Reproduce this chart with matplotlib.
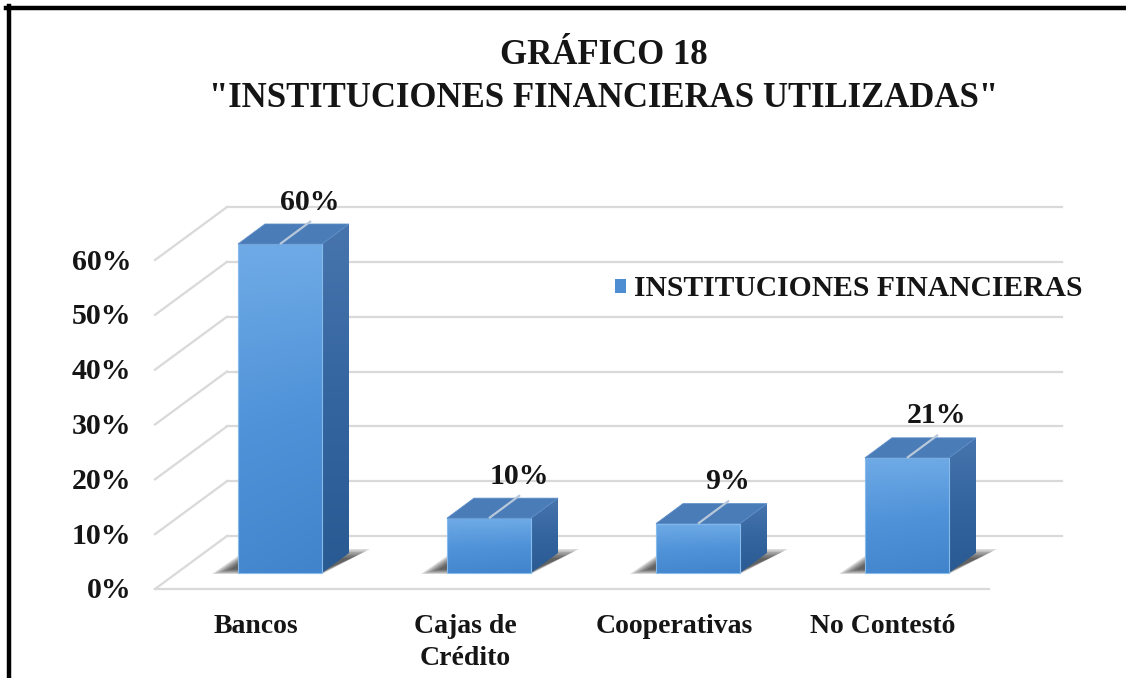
import numpy as np
import matplotlib
matplotlib.use("Agg")
import matplotlib.pyplot as plt
from matplotlib.patches import Polygon, Patch
from matplotlib.lines import Line2D
from matplotlib.colors import LinearSegmentedColormap

# ---------------- data ----------------
categories = ["Bancos", "Cajas de\nCrédito", "Cooperativas", "No Contestó"]
values = [60, 10, 9, 21]
value_labels = ["60%", "10%", "9%", "21%"]
yticks = [0, 10, 20, 30, 40, 50, 60]
ytick_labels = ["0%", "10%", "20%", "30%", "40%", "50%", "60%"]
series_name = "INSTITUCIONES FINANCIERAS"
title = 'GRÁFICO 18\n"INSTITUCIONES FINANCIERAS UTILIZADAS"'

# ---------------- figure ----------------
W, H = 1126, 678
fig = plt.figure(figsize=(W / 100, H / 100), dpi=100)
fig.patch.set_facecolor("white")
ax = fig.add_axes([0, 0, 1, 1])
ax.set_axis_off()

# pixel scale helpers (style only)
PXX = 1 / 209.0      # x data units per pixel
PXY = 1 / 5.483      # y data units per pixel
FONT = "Liberation Serif"
TXT = "#151515"

# perspective (style constants)
wall_x0 = -53 * PXX
wall_x1 = 782 * PXX
side_dx = -72 * PXX
side_dy = -53 * PXY
bar_base = -37 * PXY
half_w = 42 * PXX
dep_dx = 27 * PXX
dep_dy = 20 * PXY

grid_c = "#d9d9d9"
# back wall gridlines + side wall diagonals
for t in yticks:
    ax.plot([wall_x0, wall_x1], [t, t], color=grid_c, lw=1.6, zorder=1)
    ax.plot([wall_x0, wall_x0 + side_dx], [t, t + side_dy], color=grid_c, lw=1.6, zorder=1)
# front floor edge
ax.plot([wall_x0 + side_dx, wall_x0 + side_dx + 834 * PXX], [side_dy, side_dy],
        color=grid_c, lw=1.6, zorder=1)

# y tick labels on the front plane
for t, lab in zip(yticks, ytick_labels):
    ax.text(wall_x0 + side_dx - 24 * PXX, t + side_dy - 2 * PXY, lab, ha="right", va="center",
            fontsize=21.5, fontweight="bold", family=FONT, color=TXT)

front_cmap = LinearSegmentedColormap.from_list("front", ["#6eaae6", "#4f92d8", "#4184cb"])
side_cmap = LinearSegmentedColormap.from_list("side", ["#4774ad", "#34659f", "#2a5a92"])
top_color = "#4a7cb8"

grad = np.linspace(0, 1, 64).reshape(-1, 1)
hgrad = np.linspace(0.85, 1.0, 32).reshape(1, -1)

for i, (v, vl) in enumerate(zip(values, value_labels)):
    xl, xr = i - half_w, i + half_w
    b = bar_base
    tp = bar_base + v

    # soft shadow on floor
    for k in range(7):
        s = k * 3 * PXX
        sy = k * 1.5 * PXY
        shadow = Polygon([(xl - 26 * PXX + s, b - 1 * PXY + sy * 0.5),
                          (xr + s * 0.2, b - 1 * PXY + sy * 0.5),
                          (xr + 48 * PXX - s, b + 24 * PXY - sy),
                          (xl + 10 * PXX, b + 24 * PXY - sy)],
                         closed=True, facecolor="#1a1a1a", edgecolor="none",
                         alpha=0.15, zorder=2)
        ax.add_patch(shadow)

    # side face
    side_poly = Polygon([(xr, b), (xr + dep_dx, b + dep_dy), (xr + dep_dx, tp + dep_dy), (xr, tp)],
                        closed=True, facecolor="none", edgecolor="none", zorder=3)
    ax.add_patch(side_poly)
    im = ax.imshow(grad, cmap=side_cmap, extent=[xr, xr + dep_dx, b, tp + dep_dy],
                   origin="upper", aspect="auto", zorder=3, interpolation="bicubic")
    im.set_clip_path(side_poly)

    # front face
    ax.imshow(grad * hgrad, cmap=front_cmap, extent=[xl, xr, b, tp], origin="upper",
              aspect="auto", zorder=4, interpolation="bicubic")
    ax.add_patch(Polygon([(xl, b), (xr, b), (xr, tp), (xl, tp)], closed=True,
                         facecolor="none", edgecolor="#86bbec", lw=0.8, zorder=4))

    # top face
    ax.add_patch(Polygon([(xl, tp), (xr, tp), (xr + dep_dx, tp + dep_dy), (xl + dep_dx, tp + dep_dy)],
                         closed=True, facecolor=top_color, edgecolor="#5a8bc6", lw=0.6, zorder=5))
    # leader line
    ax.plot([i, i + dep_dx * 1.15], [tp, tp + dep_dy * 1.15], color="#b8c8da", lw=1.6, zorder=6,
            solid_capstyle="butt")

    # value label
    ax.text(i + 30 * PXX, tp + dep_dy + 22 * PXY, vl, ha="center", va="center",
            fontsize=21.5, fontweight="bold", family=FONT, color=TXT, zorder=7)

    # category label
    ax.text(i - 24 * PXX, bar_base - 41 * PXY, categories[i], ha="center", va="top",
            fontsize=20, fontweight="bold", family=FONT, color=TXT, linespacing=1.35)

ax.set_xlim(-280 * PXX, (W - 280) * PXX)
ax.set_ylim(-(H - 536) * PXY, 536 * PXY)

# legend
leg = ax.legend(handles=[Patch(facecolor="#4f8dd2", edgecolor="none", label=series_name)],
                loc="center left", bbox_to_anchor=(615 / W, 1 - 289 / H),
                bbox_transform=fig.transFigure, frameon=False, handlelength=0.38,
                handleheight=0.38, handletextpad=0.25, borderpad=0, borderaxespad=0,
                prop={"family": FONT, "weight": "bold", "size": 21.3})
for t in leg.get_texts():
    t.set_color(TXT)

# title
fig.text(604 / W, 1 - 77 / H, title, ha="center", va="center", fontsize=25,
         fontweight="bold", family=FONT, color=TXT, linespacing=1.42)

# outer frame (top and left black lines)
fig.add_artist(Line2D([6 / W, 1], [1 - 8 / H, 1 - 8 / H], transform=fig.transFigure,
                      color="black", lw=3.2))
fig.add_artist(Line2D([9 / W, 9 / W], [0, 1 - 6 / H], transform=fig.transFigure,
                      color="black", lw=3.2))

fig.savefig("out.png", dpi=100, facecolor="white")
